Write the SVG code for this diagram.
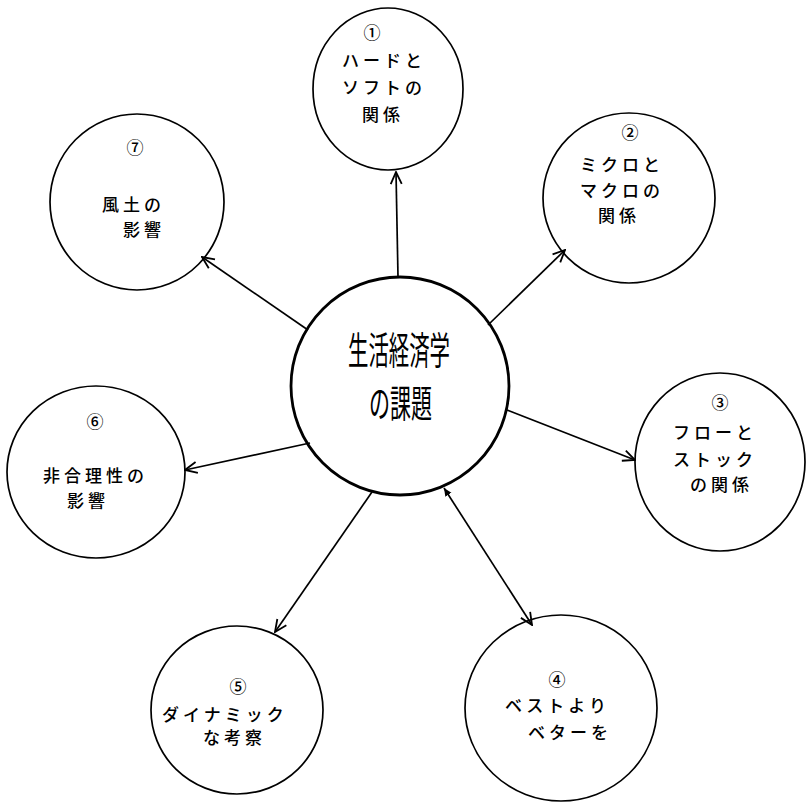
<svg xmlns="http://www.w3.org/2000/svg" width="806" height="803" viewBox="0 0 806 803">
  <style>
    .ring { fill: none; stroke: #000; stroke-width: 1.7; }
    .hub { fill: none; stroke: #000; stroke-width: 2.8; }
    .lbl { font-family: "Noto Sans CJK JP", "Noto Sans", sans-serif; font-size: 17px; font-weight: 500; letter-spacing: 4px; fill: #000; }
    .num { font-family: "Noto Sans CJK JP", "DejaVu Sans", sans-serif; font-size: 17px; font-weight: 500; fill: #000; text-anchor: middle; }
    .title { font-family: "Noto Sans CJK JP", sans-serif; font-size: 38px; font-weight: 400; fill: #000; }
    .link { stroke: #000; stroke-width: 1.7; fill: none; }
  </style>
  <defs>
    <marker id="head" viewBox="0 0 14 14" refX="13" refY="7" markerWidth="14" markerHeight="14" markerUnits="userSpaceOnUse" orient="auto">
      <path d="M1,1.5 L13,7 L1,12.5" fill="none" stroke="#000" stroke-width="1.8"/>
    </marker>
    <marker id="tail" viewBox="0 0 10 10" refX="9" refY="5" markerWidth="9" markerHeight="9" markerUnits="userSpaceOnUse" orient="auto-start-reverse">
      <path d="M0,1 L9,5 L0,9 Z" fill="#000"/>
    </marker>
  </defs>

  <!-- connectors -->
  <g id="connectors">
    <line class="link" x1="398" y1="277" x2="396" y2="172" marker-end="url(#head)"/>
    <line class="link" x1="488" y1="325" x2="565" y2="250" marker-end="url(#head)"/>
    <line class="link" x1="507" y1="410" x2="635" y2="460" marker-end="url(#head)"/>
    <line class="link" x1="444" y1="488" x2="532" y2="625" marker-start="url(#tail)" marker-end="url(#head)"/>
    <line class="link" x1="372" y1="492" x2="275" y2="632" marker-end="url(#head)"/>
    <line class="link" x1="310" y1="443" x2="185" y2="470" marker-end="url(#head)"/>
    <line class="link" x1="308" y1="330" x2="202" y2="257" marker-end="url(#head)"/>
  </g>

  <!-- central topic -->
  <g id="hub">
    <circle class="hub" cx="400" cy="386" r="109"/>
    <text class="title" x="348" y="364" textLength="102" lengthAdjust="spacingAndGlyphs">生活経済学</text>
    <text class="title" x="369" y="417" textLength="63" lengthAdjust="spacingAndGlyphs">の課題</text>
  </g>

  <g id="node1">
    <ellipse class="ring" cx="388" cy="89" rx="75" ry="81"/>
    <text class="num" x="372" y="39">①</text>
    <text class="lbl" x="342" y="67">ハードと</text>
    <text class="lbl" x="342" y="94">ソフトの</text>
    <text class="lbl" x="362" y="121">関係</text>
  </g>

  <g id="node2">
    <ellipse class="ring" cx="629" cy="198" rx="86" ry="85"/>
    <text class="num" x="630" y="139">②</text>
    <text class="lbl" x="580" y="171">ミクロと</text>
    <text class="lbl" x="580" y="197">マクロの</text>
    <text class="lbl" x="598" y="222">関係</text>
  </g>

  <g id="node3">
    <ellipse class="ring" cx="720" cy="462" rx="85" ry="89"/>
    <text class="num" x="720" y="409">③</text>
    <text class="lbl" x="673" y="439">フローと</text>
    <text class="lbl" x="673" y="466">ストック</text>
    <text class="lbl" x="690" y="491">の関係</text>
  </g>

  <g id="node4">
    <ellipse class="ring" cx="561" cy="708" rx="96" ry="93"/>
    <text class="num" x="557" y="686">④</text>
    <text class="lbl" x="505" y="712">ベストより</text>
    <text class="lbl" x="528" y="739">ベターを</text>
  </g>

  <g id="node5">
    <ellipse class="ring" cx="237" cy="710" rx="86" ry="84"/>
    <text class="num" x="238" y="693">⑤</text>
    <text class="lbl" x="162" y="721">ダイナミック</text>
    <text class="lbl" x="203" y="744">な考察</text>
  </g>

  <g id="node6">
    <ellipse class="ring" cx="96" cy="472" rx="89" ry="86"/>
    <text class="num" x="95" y="428">⑥</text>
    <text class="lbl" x="43" y="482">非合理性の</text>
    <text class="lbl" x="67" y="507">影響</text>
  </g>

  <g id="node7">
    <ellipse class="ring" cx="137" cy="202" rx="87" ry="88"/>
    <text class="num" x="135" y="154">⑦</text>
    <text class="lbl" x="102" y="211">風土の</text>
    <text class="lbl" x="123" y="236">影響</text>
  </g>
</svg>
